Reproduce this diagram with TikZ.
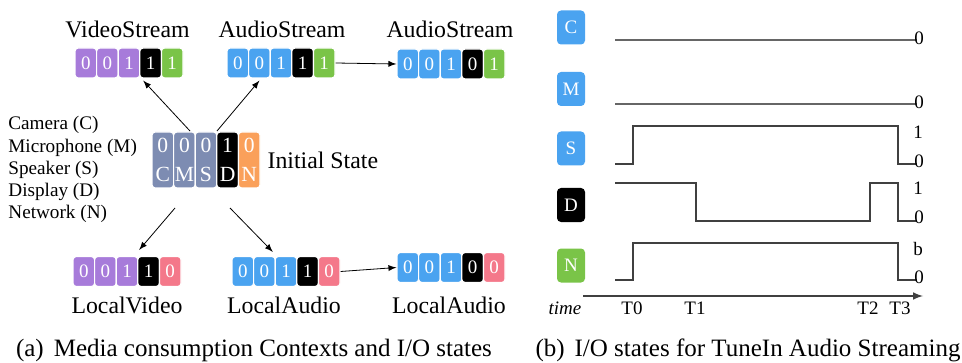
\documentclass[tikz,border=0pt]{standalone}
\usepackage{fontspec}
\setmainfont{Liberation Serif}
\usepackage{tikz}
\usetikzlibrary{arrows}
\usepackage{xcolor}
\definecolor{cpurple}{RGB}{167,123,218}
\definecolor{cblue}{RGB}{74,163,240}
\definecolor{cgreen}{RGB}{122,196,72}
\definecolor{cpink}{RGB}{244,120,138}
\definecolor{corange}{RGB}{250,160,90}
\definecolor{cgray}{RGB}{125,140,178}

\begin{document}
\begin{tikzpicture}[x=0.5pt,y=-0.5pt,
	cell/.style={draw=white,line width=0.6pt,rounded corners=1.6pt,text=white,inner sep=0pt,
		minimum width=10.8pt,minimum height=15pt,font=\fontsize{9.5}{9.5}\selectfont},
	initcell/.style={cell,minimum height=28pt,align=center,font=\fontsize{10.8}{14.5}\selectfont},
	sigbox/.style={rounded corners=2pt,text=white,inner sep=0pt,minimum width=14pt,
		minimum height=17pt,font=\fontsize{9.5}{9.5}\selectfont},
	title/.style={anchor=base,font=\fontsize{11.9}{11.9}\selectfont},
	small/.style={font=\fontsize{9.5}{9.5}\selectfont,inner sep=0pt},
	wave/.style={black!75,line width=0.7pt}]
	\useasboundingbox (0,0) rectangle (962,363);

	% (a) contexts and I/O states
	% initial state
	\foreach \d/\l/\c [count=\i] in {0/C/cgray,0/M/cgray,0/S/cgray,1/D/black,0/N/corange}
		\node[initcell,fill=\c] (init\i) at (141.2+21.6*\i,160) {\d\\\l};
	\node[title,anchor=west] (initlbl) at (init5.east) {Initial State};

	% device names
	\foreach \t [count=\i] in {Camera (C),Microphone (M),Speaker (S),Display (D),Network (N)}
		\node[anchor=west,inner sep=0pt,font=\fontsize{9.6}{9.6}\selectfont] (dev\i) at (8,103+22.2*\i) {\t};

	% streaming contexts
	\foreach \d/\c [count=\i] in {0/cpurple,0/cpurple,1/cpurple,1/black,1/cgreen}
		\node[cell,fill=\c] (vs\i) at (64.2+21.6*\i,63) {\d};
	\node[title] (vslbl) at (127.5,38) {VideoStream};
	\foreach \d/\c [count=\i] in {0/cblue,0/cblue,1/cblue,1/black,1/cgreen}
		\node[cell,fill=\c] (as\i) at (216.2+21.6*\i,63) {\d};
	\node[title] (aslbl) at (282,38) {AudioStream};
	\foreach \d/\c [count=\i] in {0/cblue,0/cblue,1/cblue,0/black,1/cgreen}
		\node[cell,fill=\c] (asb\i) at (386.2+21.6*\i,64) {\d};
	\node[title] (asblbl) at (450,38) {AudioStream};

	% local contexts
	\foreach \d/\c [count=\i] in {0/cpurple,0/cpurple,1/cpurple,1/black,0/cpink}
		\node[cell,fill=\c] (lv\i) at (62.2+21.6*\i,271.5) {\d};
	\node[title] (lvlbl) at (127,313) {LocalVideo};
	\foreach \d/\c [count=\i] in {0/cblue,0/cblue,1/cblue,1/black,0/cpink}
		\node[cell,fill=\c] (la\i) at (221.2+21.6*\i,271.5) {\d};
	\node[title] (lalbl) at (284,313) {LocalAudio};
	\foreach \d/\c [count=\i] in {0/cblue,0/cblue,1/cblue,0/black,0/cpink}
		\node[cell,fill=\c] (lab\i) at (386.2+21.6*\i,267.5) {\d};
	\node[title] (lablbl) at (449,313) {LocalAudio};

	% transitions
	\coordinate (upl) at (190,131);
	\coordinate (upr) at (217,131);
	\coordinate (dnl) at (175,208);
	\coordinate (dnr) at (230,208);
	\draw[-latex] (upl) -- ([xshift=2pt,yshift=-1pt]vs4.south west);
	\draw[-latex] (upr) -- ([yshift=-1pt]as2.south);
	\draw[-latex] (dnl) -- ([xshift=1pt,yshift=3pt]lv4.north west);
	\draw[-latex] (dnr) -- ([xshift=-1.5pt,yshift=2pt]la2.north east);
	\draw[-latex] (as5.east) -- (asb1.west);
	\draw[-latex] (la5.east) -- (lab1.west);

	\node[font=\fontsize{12.5}{12.5}\selectfont] (capa) at (254,350) {(a)\hskip0.4em Media consumption Contexts and I/O states};

	% (b) I/O states over time
	\foreach \l/\c/\y in {C/cblue/27.5,M/cblue/89,S/cblue/148.5,D/black/205,N/cgreen/265.5}
		\node[sigbox,fill=\c] (box\l) at (571,\y) {\l};

	\draw[black!60,line width=1.1pt] (615,40) -- (917,40);
	\draw[black!60,line width=1.1pt] (615,104) -- (917,104);
	\draw[wave] (615,164) -- (633,164) -- (633,126) -- (898,126) -- (898,164) -- (917,164);
	\draw[wave] (615,183) -- (696,183) -- (696,221) -- (870,221) -- (870,183) -- (898,183) -- (898,221) -- (917,221);
	\draw[wave] (615,280) -- (633,280) -- (633,243) -- (898,243) -- (898,280) -- (917,280);

	\node[small] (vc) at (919,38) {0};
	\node[small] (vm) at (919,102) {0};
	\node[small] (vs1v) at (918,132) {1};
	\node[small] (vs0) at (919,161) {0};
	\node[small] (vd1) at (918,188) {1};
	\node[small] (vd0) at (919,217) {0};
	\node[small] (vnb) at (918,249) {b};
	\node[small] (vn0) at (919,277) {0};

	% time axis
	\coordinate (t0) at (583,296);
	\coordinate (t1) at (923,296);
	\draw[-latex,black!75,line width=0.7pt] (t0) -- (t1);
	\node[small,font=\fontsize{9.5}{9.5}\selectfont\itshape] (tlbl) at (565,308) {time};
	\foreach \t/\x in {T0/632,T1/695,T2/868,T3/900}
		\node[small] (lbl\t) at (\x,308) {\t};

	\node[font=\fontsize{12.5}{12.5}\selectfont] (capb) at (748,350) {(b)\hskip0.4em I/O states for TuneIn Audio Streaming};
\end{tikzpicture}
\end{document}
